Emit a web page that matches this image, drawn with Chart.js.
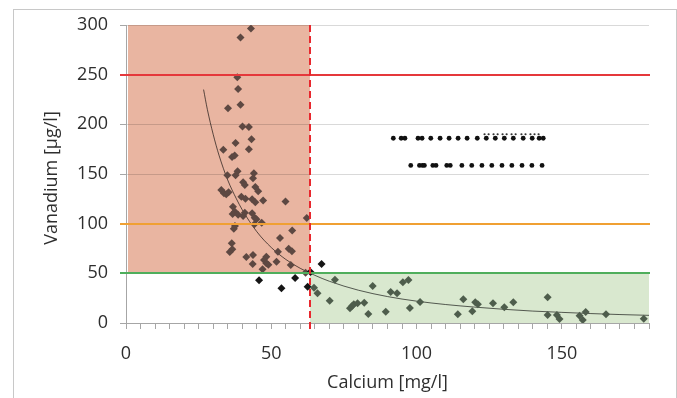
<!DOCTYPE html>
<html>
<head>
<meta charset="utf-8">
<script src="https://cdn.jsdelivr.net/npm/chart.js@4"></script>
<style>
  html, body { margin: 0; padding: 0; background: #fff; }
  #wrap { position: relative; width: 677px; height: 398px; overflow: hidden; }
  #frame { position: absolute; left: 13px; top: 9px; width: 662px; height: 400px; border: 1px solid #c8c8c8; }
  canvas { position: absolute; left: 0; top: 0; }
</style>
</head>
<body>
<div id="wrap"><div id="frame"></div><canvas id="chart" width="677" height="398"></canvas></div>
<script>
// ---- Data ----
const calcium = [
  43.0, 39.4, 38.3, 38.6, 39.4, 35.1, 40.1, 42.3, 43.2, 37.7, 33.5, 42.3, 36.5, 37.4,
  38.4, 37.7, 34.9, 44.0, 43.7, 40.3, 40.9, 44.5, 45.5, 32.8, 33.7, 34.5, 35.3,
  39.7, 41.1, 43.4, 44.5, 47.2, 54.9, 36.8, 37.5, 36.7, 38.6, 40.9, 40.3, 43.4, 44.3, 44.9,
  46.7, 44.2, 37.5, 37.1, 62.2, 57.2, 53.0, 36.4, 36.6, 35.7, 56.0, 57.1, 52.3, 41.4, 43.7,
  48.3, 47.5, 49.0, 48.3, 51.8, 43.6, 47.0, 56.7, 61.8,
  45.8, 53.5, 58.2, 62.5, 63.5, 67.3,
  64.7, 65.9, 70.1, 71.9, 77.1, 77.9, 78.4, 79.7, 82.0, 83.4, 84.9, 89.4, 91.1, 93.3,
  95.3, 97.2, 97.7, 101.2, 114.2, 116.1, 119.2, 120.2, 121.1, 126.3, 130.2, 133.3,
  145.1, 145.1, 148.3, 149.2, 156.1, 157.2, 158.2, 165.2, 178.2
];
const vanadium = [
  296.4, 287.3, 247.4, 235.6, 219.8, 216.2, 197.7, 197.4, 185.0, 181.3, 174.5, 174.9, 167.2, 168.5,
  152.8, 148.7, 148.7, 150.8, 145.7, 141.7, 139.0, 137.0, 132.6, 133.9, 130.6, 129.6, 131.6,
  127.2, 125.2, 124.6, 121.5, 123.2, 122.2, 117.1, 112.1, 109.8, 109.1, 111.1, 107.8, 110.5, 106.0, 104.4,
  101.0, 99.4, 97.7, 95.0, 105.7, 93.0, 85.6, 80.3, 74.2, 71.5, 74.8, 72.2, 71.8, 66.5, 68.5,
  66.8, 63.4, 58.7, 60.1, 61.7, 59.4, 54.1, 58.4, 50.7,
  43.0, 35.0, 45.3, 36.6, 51.4, 59.4,
  35.6, 29.9, 22.5, 43.6, 14.8, 17.4, 18.8, 19.8, 20.4, 9.1, 37.3, 11.4, 31.2, 29.9,
  41.0, 43.3, 15.1, 21.1, 8.8, 23.9, 11.8, 20.8, 18.8, 19.8, 15.8, 20.8,
  25.9, 8.1, 8.1, 4.0, 7.4, 3.0, 11.1, 8.8, 4.3
];

// power trendline
const trendX = [26.7, 28, 30, 32, 35, 38, 40, 45, 50, 55, 60, 65, 70, 80, 90, 100, 110, 120, 130, 140, 150, 160, 170, 180];
const trendY = [235, 215, 190, 169, 144, 125, 114, 92, 76, 64, 55, 48, 42, 33, 26.6, 22, 18.6, 16, 13.8, 12, 10.7, 9.5, 8.5, 7.7];

// the two rows of black dots
const dotsUpperX = [92.0, 94.7, 96.0, 100.5, 101.9, 104.9, 108.1, 111.2, 114.3, 117.4, 120.9, 124.0, 127.1, 130.2, 133.3, 136.7, 139.8, 142.2, 143.6];
const dotsUpperY = 186;
const dotsSmallX = [123.4, 124.8, 126.5, 127.9, 129.6, 131.0, 132.7, 134.1, 136.1, 137.5, 139.2, 140.6, 142.0];
const dotsSmallY = 190;
const dotsLowerX = [98.0, 101.0, 102.0, 102.7, 105.6, 106.7, 110.4, 111.6, 115.6, 119.0, 122.5, 125.9, 129.4, 132.8, 136.3, 139.7, 143.2];
const dotsLowerY = 158.6;

// limits
const limitRed = 250, limitOrange = 100, limitGreen = 50;
const calciumLimit = 63.3;
const xMax = 180, yMax = 300;
const yTicks = [0, 50, 100, 150, 200, 250, 300];
const xLabelTicks = [0, 50, 100, 150];

const points = calcium.map((c, i) => ({ x: c, y: vanadium[i] }));
const trend = trendX.map((c, i) => ({ x: c, y: trendY[i] }));

function pointColor(ctx) {
  const p = ctx.raw;
  if (!p) return '#1a1a1a';
  if (p.x < calciumLimit && p.y > limitGreen) return '#5d4842';
  if (p.x >= calciumLimit && p.y < limitGreen) return '#4e5d4c';
  return '#151515';
}

const font = { family: '"Open Sans", sans-serif', size: 18 };
const textColor = '#2e2e2e';

// ---- zones, limit lines, y title ----
const zones = {
  id: 'zones',
  beforeDraw(chart) {
    const { ctx, scales: { x, y } } = chart;
    const x0 = x.getPixelForValue(0) + 2, xc = x.getPixelForValue(calciumLimit), x1 = x.getPixelForValue(xMax);
    ctx.save();
    ctx.fillStyle = '#e9b5a1';
    ctx.fillRect(x0, y.getPixelForValue(yMax), xc - x0, y.getPixelForValue(limitGreen) - y.getPixelForValue(yMax));
    ctx.fillStyle = '#d9e8cf';
    ctx.fillRect(xc, y.getPixelForValue(limitGreen), x1 - xc, y.getPixelForValue(0) - y.getPixelForValue(limitGreen));
    ctx.restore();
  },
  afterDatasetsDraw(chart) {
    const { ctx, scales: { x, y } } = chart;
    const left = x.left - 6, right = x.getPixelForValue(xMax) + 1;
    ctx.save();
    ctx.lineWidth = 2;
    [[limitRed, '#e5383b'], [limitOrange, '#f0a033'], [limitGreen, '#4fae5c']].forEach(([v, col]) => {
      const py = Math.round(y.getPixelForValue(v));
      ctx.strokeStyle = col;
      ctx.beginPath(); ctx.moveTo(left, py); ctx.lineTo(right, py); ctx.stroke();
    });
    const px = Math.round(x.getPixelForValue(calciumLimit));
    ctx.strokeStyle = '#e8282e';
    ctx.setLineDash([7, 4]);
    ctx.beginPath(); ctx.moveTo(px, y.getPixelForValue(yMax)); ctx.lineTo(px, y.getPixelForValue(0) + 6); ctx.stroke();
    ctx.restore();
  },
  afterDraw(chart) {
    // y title, a bit lower than the plot centre as in the reference
    const { ctx, scales: { y } } = chart;
    ctx.save();
    ctx.translate(52, (y.top + y.bottom) / 2 + 4);
    ctx.rotate(-Math.PI / 2);
    ctx.font = `${font.size}px ${font.family}`;
    ctx.fillStyle = textColor;
    ctx.textAlign = 'center';
    ctx.textBaseline = 'middle';
    ctx.fillText('Vanadium [µg/l]', 0, 0);
    ctx.restore();
  }
};

new Chart(document.getElementById('chart'), {
  type: 'scatter',
  data: {
    datasets: [
      { data: points, pointStyle: 'rectRot', pointRadius: 4, pointBorderWidth: 0,
        pointBackgroundColor: pointColor, pointBorderColor: pointColor },
      { data: dotsUpperX.map(v => ({ x: v, y: dotsUpperY })), pointStyle: 'circle', pointRadius: 2.4,
        pointBorderWidth: 0, pointBackgroundColor: '#111' },
      { data: dotsSmallX.map(v => ({ x: v, y: dotsSmallY })), pointStyle: 'circle', pointRadius: 1.1,
        pointBorderWidth: 0, pointBackgroundColor: '#333' },
      { data: dotsLowerX.map(v => ({ x: v, y: dotsLowerY })), pointStyle: 'circle', pointRadius: 2.4,
        pointBorderWidth: 0, pointBackgroundColor: '#111' },
      { type: 'line', data: trend, showLine: true, borderColor: 'rgba(0,0,0,0.62)', borderWidth: 1,
        pointRadius: 0, cubicInterpolationMode: 'monotone', fill: false }
    ]
  },
  options: {
    responsive: false,
    devicePixelRatio: 1,
    animation: false,
    layout: { padding: { left: 0, top: 25, right: 28, bottom: 0 } },
    plugins: { legend: { display: false }, tooltip: { enabled: false } },
    scales: {
      x: {
        type: 'linear', min: 0, max: xMax,
        afterFit: s => { s.height = 75; },
        grid: { display: true, drawOnChartArea: false, drawTicks: true, tickLength: 6, tickColor: '#a6a6a6' },
        border: { color: '#a6a6a6', width: 1 },
        ticks: {
          stepSize: 5, autoSkip: false, maxRotation: 0, padding: 14, color: textColor, font,
          callback: v => xLabelTicks.includes(v) ? v : ''
        },
        title: { display: true, text: 'Calcium [mg/l]', color: textColor, font, padding: { top: 0, bottom: 4 } }
      },
      y: {
        type: 'linear', min: 0, max: yMax,
        afterFit: s => { s.width = 126; },
        afterBuildTicks: s => { s.ticks = yTicks.map(v => ({ value: v })); },
        grid: { color: 'rgba(0,0,0,0.15)', tickColor: '#a6a6a6', tickLength: 6 },
        border: { color: '#a6a6a6', width: 1 },
        ticks: { padding: 12, color: textColor, font },
        title: { display: false }
      }
    }
  },
  plugins: [zones]
});
</script>
</body>
</html>
